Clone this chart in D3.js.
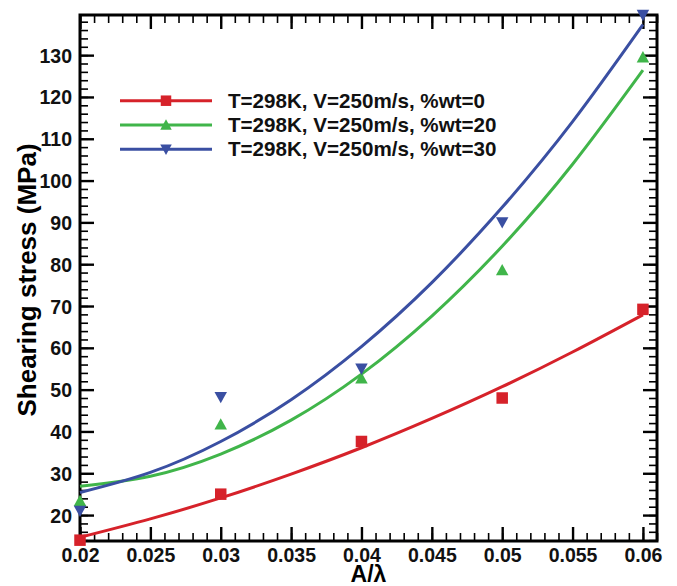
<!DOCTYPE html>
<html>
<head>
<meta charset="utf-8">
<script src="https://cdn.jsdelivr.net/npm/d3@7"></script>
<style>
  body { margin: 0; background: #fff; }
  text { font-family: "Liberation Sans", Arial, Helvetica, sans-serif; font-weight: bold; }
</style>
</head>
<body>
<svg id="chart" width="677" height="586"></svg>
<script>
// measured data (A/lambda vs shearing stress)
const ratios = [0.02, 0.03, 0.04, 0.05, 0.06];
const stressWt0 = [14, 25, 37.6, 48, 69.2];
const stressWt20 = [23.4, 41.7, 52.7, 78.6, 129.5];
const stressWt30 = [21, 48.2, 55, 90, 139.6];

// fitted trend curves
const fitRatios = [0.02, 0.025, 0.03, 0.035, 0.04, 0.045, 0.05, 0.055, 0.06];
const fitWt0 = [14.7, 19.1, 24.1, 29.8, 36.1, 43.1, 50.7, 59.0, 67.9];
const fitWt20 = [26.9, 29.3, 34.6, 42.7, 53.7, 67.6, 84.3, 103.9, 126.4];
const fitWt30 = [25.4, 30.2, 37.6, 47.6, 60.3, 75.6, 93.6, 114.1, 137.3];

const seriesNames = ["T=298K, V=250m/s, %wt=0", "T=298K, V=250m/s, %wt=20", "T=298K, V=250m/s, %wt=30"];
const seriesColors = ["#d6222a", "#40b54a", "#3a4fa2"];
const seriesMarkers = ["square", "up", "down"];

const xTicks = [0.02, 0.025, 0.03, 0.035, 0.04, 0.045, 0.05, 0.055, 0.06];
const yTicks = [20, 30, 40, 50, 60, 70, 80, 90, 100, 110, 120, 130];

const svg = d3.select("#chart");
const plotL = 80, plotR = 657, plotT = 15, plotB = 541;

const x = d3.scaleLinear().domain([0.02, 0.061]).range([plotL, plotR]);
const y = d3.scaleLinear().domain([13.8, 139.6]).range([plotB, plotT]);

// minor tick positions
const xMinor = d3.range(20, 62).map(d => d / 1000).filter(d => x(d) <= plotR);
const yMinor = d3.range(14, 140, 2).filter(d => y(d) >= plotT);

// axes (ticks inside, mirrored on top and right)
function drawAxis(axis, pos, majorVals, minorVals) {
  const g = svg.append("g").attr("transform", pos);
  g.call(axis.tickValues(minorVals).tickSize(-8).tickFormat(""))
    .call(a => a.selectAll(".tick line").attr("stroke-width", 1.6));
  g.select(".domain").remove();
  const g2 = svg.append("g").attr("transform", pos);
  g2.call(axis.tickValues(majorVals).tickSize(-14).tickFormat(null))
    .call(a => a.selectAll(".tick line").attr("stroke-width", 2.4));
  g2.select(".domain").remove();
  return g2;
}

const xb = drawAxis(d3.axisBottom(x), `translate(0,${plotB})`, xTicks, xMinor);
xb.selectAll(".tick text").attr("y", 2).attr("dy", "0.95em")
  .attr("font-size", 19.5).attr("fill", "#111").text(d => String(+d.toFixed(3)));
const xt = drawAxis(d3.axisTop(x), `translate(0,${plotT})`, xTicks, xMinor);
xt.selectAll(".tick text").remove();

const yl = drawAxis(d3.axisLeft(y), `translate(${plotL},0)`, yTicks, yMinor);
yl.selectAll(".tick text").attr("x", -8).attr("dy", "0.36em")
  .attr("font-size", 19.5).attr("fill", "#111");
const yr = drawAxis(d3.axisRight(y), `translate(${plotR},0)`, yTicks, yMinor);
yr.selectAll(".tick text").remove();

// frame
svg.append("rect")
  .attr("x", plotL).attr("y", plotT)
  .attr("width", plotR - plotL).attr("height", plotB - plotT)
  .attr("fill", "none").attr("stroke", "#000").attr("stroke-width", 3);

// axis titles
svg.append("text")
  .attr("x", (plotL + plotR) / 2).attr("y", 582)
  .attr("text-anchor", "middle").attr("font-size", 23)
  .text("A/λ");
svg.append("text")
  .attr("transform", `translate(36,${(plotT + plotB) / 2 + 2}) rotate(-90)`)
  .attr("text-anchor", "middle").attr("font-size", 26)
  .text("Shearing stress (MPa)");

// marker shapes
function markerPath(type, s) {
  if (type === "square") return `M${-s/2},${-s/2}h${s}v${s}h${-s}Z`;
  const h = s * 0.9;
  if (type === "up") return `M0,${-h/2 - 1}L${s/2 + 0.5},${h/2}L${-s/2 - 0.5},${h/2}Z`;
  return `M0,${h/2 + 1}L${s/2 + 0.5},${-h/2}L${-s/2 - 0.5},${-h/2}Z`;
}

const line = d3.line().x(d => x(d[0])).y(d => y(d[1])).curve(d3.curveNatural);
const fits = [fitWt0, fitWt20, fitWt30];
const points = [stressWt0, stressWt20, stressWt30];

fits.forEach((vals, i) => {
  svg.append("path")
    .datum(fitRatios.map((r, j) => [r, vals[j]]))
    .attr("d", line)
    .attr("fill", "none")
    .attr("stroke", seriesColors[i])
    .attr("stroke-width", 3);
});

points.forEach((vals, i) => {
  svg.append("g").selectAll("path")
    .data(ratios.map((r, j) => [r, vals[j]]))
    .join("path")
    .attr("transform", d => `translate(${x(d[0])},${y(d[1])})`)
    .attr("d", markerPath(seriesMarkers[i], 11.5))
    .attr("fill", seriesColors[i]);
});

// legend
const legend = svg.append("g").attr("transform", "translate(120,100.7)");
seriesNames.forEach((name, i) => {
  const row = legend.append("g").attr("transform", `translate(0,${i * 24.3})`);
  row.append("line").attr("x1", 0).attr("x2", 92)
    .attr("stroke", seriesColors[i]).attr("stroke-width", 3);
  row.append("path").attr("transform", "translate(46,0)")
    .attr("d", markerPath(seriesMarkers[i], 10.5)).attr("fill", seriesColors[i]);
  row.append("text").attr("x", 108).attr("y", 7)
    .attr("font-size", 20.6).attr("fill", "#111").text(name);
});
</script>
</body>
</html>
